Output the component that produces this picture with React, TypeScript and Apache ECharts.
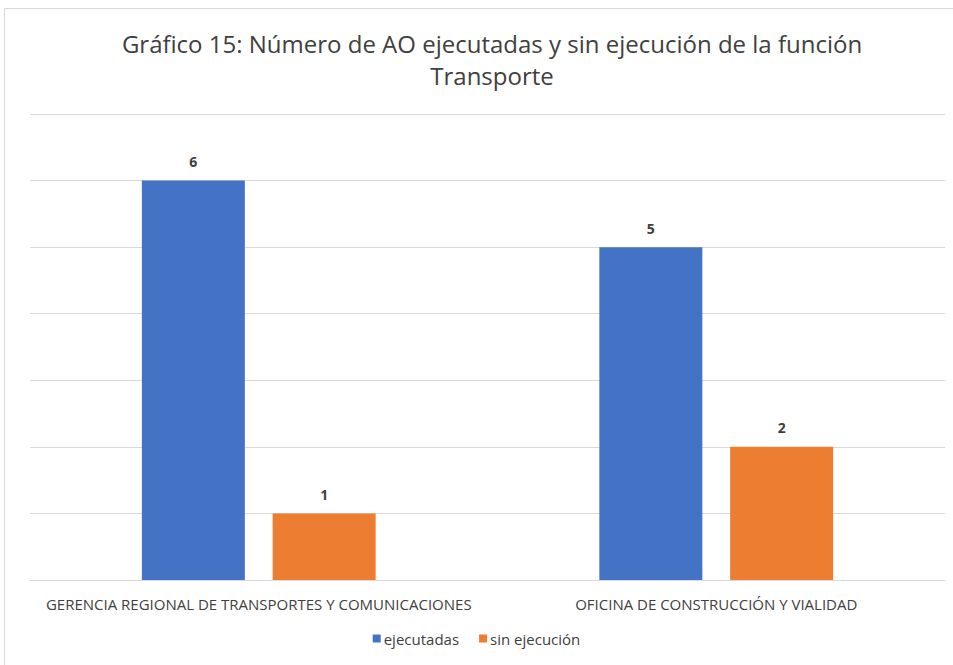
import React, { useEffect, useRef } from "react";
import * as echarts from "echarts";

const categories = [
  "GERENCIA REGIONAL DE TRANSPORTES Y COMUNICACIONES",
  "OFICINA DE CONSTRUCCIÓN Y VIALIDAD",
];
const ejecutadas = [6, 5];
const sinEjecucion = [1, 2];
const seriesNames = ["ejecutadas", "sin ejecución"];

const FONT = "'Liberation Sans Narrow', 'Open Sans', sans-serif";

export default function App() {
  const ref = useRef<HTMLDivElement>(null);
  useEffect(() => {
    if (!ref.current) return;
    const chart = echarts.init(ref.current, undefined, { renderer: "svg" });
    const labelStyle = {
      show: true,
      position: "top" as const,
      distance: 12,
      fontFamily: FONT,
      fontWeight: "bold" as const,
      fontSize: 14,
      color: "#404040",
    };
    chart.setOption({
      animation: false,
      backgroundColor: "#ffffff",
      textStyle: { fontFamily: FONT },
      title: {
        text: "Gráfico 15: Número de AO ejecutadas y sin ejecución de la función\nTransporte",
        left: 487,
        textAlign: "center",
        top: 22,
        textStyle: {
          fontFamily: FONT,
          fontSize: 24,
          fontWeight: "normal",
          color: "#404040",
          lineHeight: 32,
        },
      },
      graphic: [
        {
          type: "rect",
          shape: { x: 4.5, y: 8.5, width: 960, height: 700 },
          style: { fill: "none", stroke: "#d9d9d9", lineWidth: 1 },
          silent: true,
        },
      ],
      legend: {
        data: seriesNames,
        bottom: 14,
        left: "center",
        itemWidth: 8,
        itemHeight: 8,
        itemGap: 20,
        icon: "rect",
        textStyle: { fontFamily: FONT, fontSize: 15, color: "#404040", padding: [0, 0, 0, -2] },
      },
      grid: { left: 30, right: 8, top: 114, bottom: 85 },
      xAxis: {
        type: "category",
        data: categories,
        axisLine: { lineStyle: { color: "#d9d9d9" } },
        axisTick: { show: false },
        axisLabel: { interval: 0, fontFamily: FONT, fontSize: 15, color: "#404040", margin: 16 },
      },
      yAxis: {
        type: "value",
        min: 0,
        max: 7,
        interval: 1,
        axisLabel: { show: false },
        axisLine: { show: false },
        axisTick: { show: false },
        splitLine: { lineStyle: { color: "#d9d9d9" } },
      },
      series: [
        {
          name: seriesNames[0],
          type: "bar",
          data: ejecutadas,
          barWidth: 103,
          barGap: "27%",
          itemStyle: { color: "#4472c4" },
          label: labelStyle,
        },
        {
          name: seriesNames[1],
          type: "bar",
          data: sinEjecucion,
          barWidth: 103,
          itemStyle: { color: "#ed7d31" },
          label: labelStyle,
        },
      ],
    });
    return () => chart.dispose();
  }, []);
  return (
    <div
      ref={ref}
      style={{ position: "absolute", left: 0, top: 0, width: 953, height: 665 }}
    />
  );
}
